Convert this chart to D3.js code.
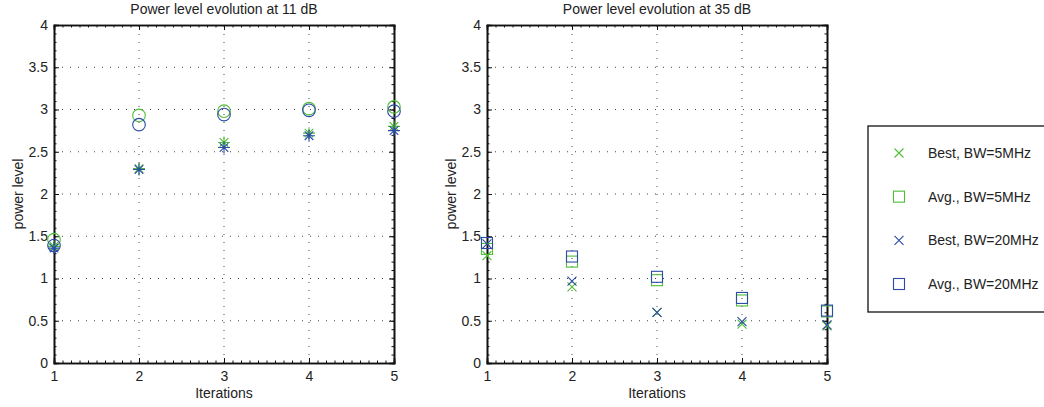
<!DOCTYPE html>
<html>
<head>
<meta charset="utf-8">
<script src="https://cdn.jsdelivr.net/npm/d3@7"></script>
<style>
  html, body { margin: 0; padding: 0; background: #fff; }
  svg { display: block; }
  text { font-family: "Liberation Sans", Arial, Helvetica, sans-serif; fill: #222; }
</style>
</head>
<body>
<svg id="chart" width="1044" height="407"></svg>
<script>
// Iteration index shared by both panels
const iterations = [1, 2, 3, 4, 5];
const xTicks = [1, 2, 3, 4, 5];
const yTicks = [0, 0.5, 1, 1.5, 2, 2.5, 3, 3.5, 4];

// Panel 1: SNR 11 dB
const best5At11 = [1.38, 2.30, 2.61, 2.72, 2.80];
const avg5At11 = [1.46, 2.93, 2.98, 3.01, 3.03];
const best20At11 = [1.36, 2.29, 2.55, 2.69, 2.75];
const avg20At11 = [1.39, 2.82, 2.94, 2.99, 2.98];

// Panel 2: SNR 35 dB
const best5At35 = [1.27, 0.90, 0.60, 0.46, 0.44];
const avg5At35 = [1.35, 1.20, 0.98, 0.74, 0.61];
const best20At35 = [1.41, 0.97, 0.60, 0.49, 0.45];
const avg20At35 = [1.42, 1.26, 1.02, 0.77, 0.62];

const seriesNames = ["Best, BW=5MHz", "Avg., BW=5MHz", "Best, BW=20MHz", "Avg., BW=20MHz"];
const GREEN = "#4fbd36";
const BLUE = "#2b4ba6";

const svg = d3.select("#chart");

// Marker painters: each draws a symbol centred at (0,0)
function drawCircle(g, color) {
  g.append("circle").attr("r", 6.3).attr("fill", "none").attr("stroke", color).attr("stroke-width", 1.1);
}
function drawStar(g, color) {
  const s = 6, d = 4.3;
  const p = `M${-s},0L${s},0M0,${-s}L0,${s}M${-d},${-d}L${d},${d}M${-d},${d}L${d},${-d}`;
  g.append("path").attr("d", p).attr("fill", "none").attr("stroke", color).attr("stroke-width", 1.1);
}
function drawCross(g, color) {
  const s = 4.5;
  g.append("path").attr("d", `M${-s},${-s}L${s},${s}M${-s},${s}L${s},${-s}`)
    .attr("fill", "none").attr("stroke", color).attr("stroke-width", 1.1);
}
function drawSquare(g, color) {
  const s = 5.5;
  g.append("rect").attr("x", -s).attr("y", -s).attr("width", 2 * s).attr("height", 2 * s)
    .attr("fill", "none").attr("stroke", color).attr("stroke-width", 1.1);
}

function panel(left, right, title, series) {
  const top = 25, bottom = 363;
  const x = d3.scaleLinear().domain([1, 5]).range([left, right]);
  const y = d3.scaleLinear().domain([0, 4]).range([bottom, top]);
  const g = svg.append("g");

  // dotted grid
  const grid = g.append("g").attr("stroke", "#444").attr("stroke-width", 1)
    .attr("stroke-dasharray", "1,7").attr("fill", "none");
  xTicks.slice(1, -1).forEach(t => {
    grid.append("line").attr("x1", x(t)).attr("x2", x(t)).attr("y1", bottom).attr("y2", top);
  });
  yTicks.slice(1, -1).forEach(t => {
    grid.append("line").attr("x1", left).attr("x2", right).attr("y1", y(t)).attr("y2", y(t));
  });

  // axes with inward ticks on all four sides
  const minorX = d3.range(1, 5.0001, 0.1).map(v => +v.toFixed(2));
  const minorY = d3.range(0, 4.0001, 0.1).map(v => +v.toFixed(2));
  const axB = d3.axisBottom(x).tickValues(xTicks).tickSize(-5).tickPadding(8).tickFormat(d3.format("d"));
  const axL = d3.axisLeft(y).tickValues(yTicks).tickSize(-5).tickPadding(8).tickFormat(d => d3.format("")(d));
  const gB = g.append("g").attr("transform", `translate(0,${bottom})`).call(axB);
  const gL = g.append("g").attr("transform", `translate(${left},0)`).call(axL);
  g.append("g").attr("transform", `translate(0,${top})`).call(d3.axisTop(x).tickValues(xTicks).tickSize(-5).tickFormat(""));
  g.append("g").attr("transform", `translate(${right},0)`).call(d3.axisRight(y).tickValues(yTicks).tickSize(-5).tickFormat(""));
  // minor ticks
  g.append("g").attr("transform", `translate(0,${bottom})`).call(d3.axisBottom(x).tickValues(minorX).tickSize(-2.5).tickFormat(""));
  g.append("g").attr("transform", `translate(0,${top})`).call(d3.axisTop(x).tickValues(minorX).tickSize(-2.5).tickFormat(""));
  g.append("g").attr("transform", `translate(${left},0)`).call(d3.axisLeft(y).tickValues(minorY).tickSize(-2.5).tickFormat(""));
  g.append("g").attr("transform", `translate(${right},0)`).call(d3.axisRight(y).tickValues(minorY).tickSize(-2.5).tickFormat(""));

  g.selectAll(".domain").attr("stroke", "#111").attr("stroke-width", 1.6);
  g.selectAll(".tick line").attr("stroke", "#111").attr("stroke-width", 1);
  g.selectAll(".tick text").attr("font-size", 14).attr("fill", "#222")
    .style("font-family", '"Liberation Sans", Arial, sans-serif');
  gL.selectAll(".tick text").attr("dx", 2);
  gB.selectAll(".tick text").attr("dy", "0.68em");

  // titles and labels
  g.append("text").attr("x", (left + right) / 2).attr("y", 14).attr("text-anchor", "middle")
    .attr("font-size", 14).text(title);
  g.append("text").attr("x", (left + right) / 2).attr("y", 398).attr("text-anchor", "middle")
    .attr("font-size", 14).text("Iterations");
  g.append("text").attr("transform", `translate(${left - 31},${(top + bottom) / 2}) rotate(-90)`)
    .attr("text-anchor", "middle").attr("font-size", 14).text("power level");

  // markers
  series.forEach(s => {
    iterations.forEach((it, i) => {
      const m = g.append("g").attr("transform", `translate(${x(it)},${y(s.values[i])})`);
      s.draw(m, s.color);
    });
  });
}

panel(54, 394, "Power level evolution at 11 dB", [
  { values: avg5At11, color: GREEN, draw: drawCircle },
  { values: best5At11, color: GREEN, draw: drawStar },
  { values: avg20At11, color: BLUE, draw: drawCircle },
  { values: best20At11, color: BLUE, draw: drawStar }
]);

panel(487, 827, "Power level evolution at 35 dB", [
  { values: best5At35, color: GREEN, draw: drawCross },
  { values: avg5At35, color: GREEN, draw: drawSquare },
  { values: best20At35, color: BLUE, draw: drawCross },
  { values: avg20At35, color: BLUE, draw: drawSquare }
]);

// legend box
const legend = svg.append("g");
legend.append("rect").attr("x", 868).attr("y", 126).attr("width", 200).attr("height", 186)
  .attr("fill", "#fff").attr("stroke", "#111").attr("stroke-width", 1.3);
const legendDraw = [drawCross, drawSquare, drawCross, drawSquare];
const legendColor = [GREEN, GREEN, BLUE, BLUE];
const legendY = d3.scalePoint().domain(seriesNames).range([153, 284]);
seriesNames.forEach((name, i) => {
  const m = legend.append("g").attr("transform", `translate(899,${legendY(name)})`);
  legendDraw[i](m, legendColor[i]);
  legend.append("text").attr("x", 928).attr("y", legendY(name) + 5).attr("font-size", 14).text(name);
});
</script>
</body>
</html>
